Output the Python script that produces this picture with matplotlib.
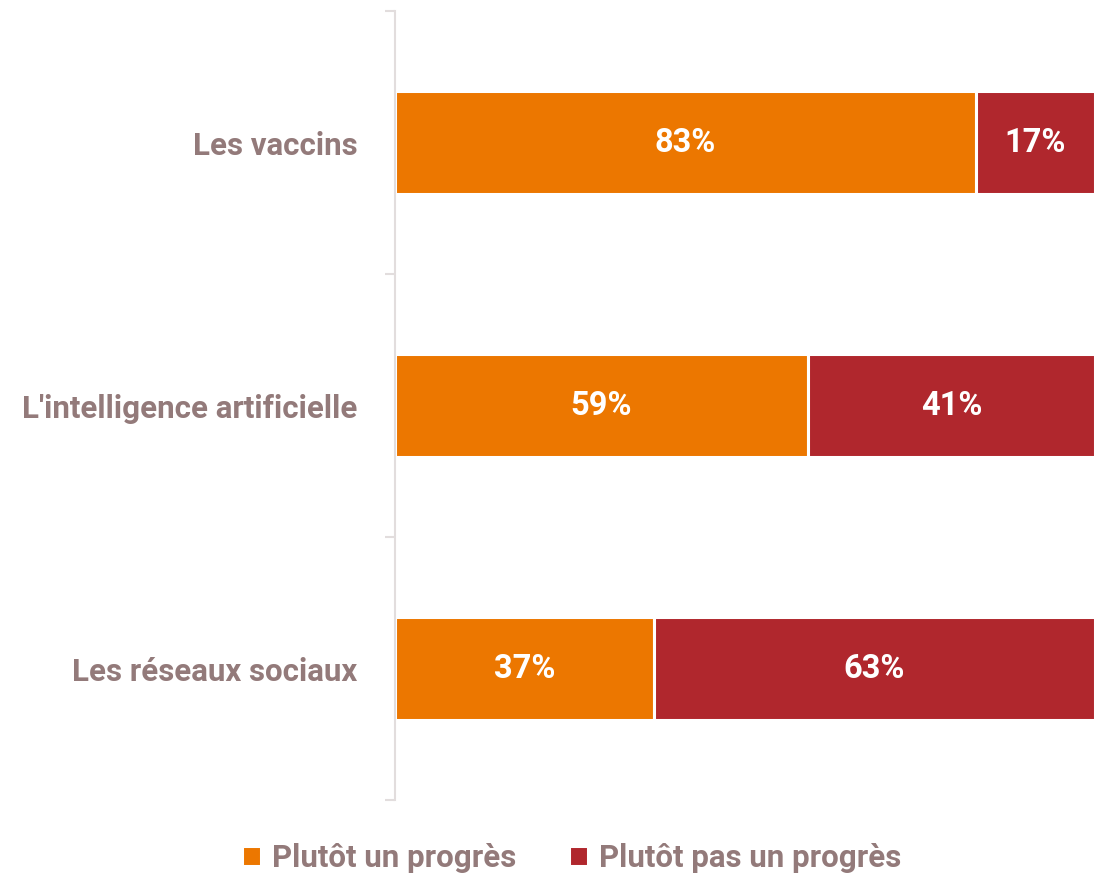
import matplotlib
matplotlib.use("Agg")
import matplotlib.pyplot as plt
import numpy as np

categories = ["Les vaccins", "L'intelligence artificielle", "Les réseaux sociaux"]
progres = [83, 59, 37]
pas_progres = [17, 41, 63]
series_names = ["Plutôt un progrès", "Plutôt pas un progrès"]

orange = "#EC7700"
red = "#B0272D"
label_color = "#937A7A"
axis_color = "#E2DDDD"

plt.rcParams['font.family'] = ['Roboto', 'DejaVu Sans']

fig = plt.figure(figsize=(11.17, 8.73), dpi=100)
ax = fig.add_axes([395 / 1117, 73 / 873, 700 / 1117, 789 / 873])

y = np.arange(len(categories))
h = 0.39
b1 = ax.barh(y, progres, height=h, color=orange, edgecolor="white", linewidth=2.2,
             label=series_names[0])
b2 = ax.barh(y, pas_progres, left=progres, height=h, color=red, edgecolor="white",
             linewidth=2.2, label=series_names[1])

# percentage labels inside each segment
for bars, vals in ((b1, progres), (b2, pas_progres)):
    for bar, v in zip(bars, vals):
        ax.text(bar.get_x() + bar.get_width() / 2, bar.get_y() + bar.get_height() / 2,
                f"{v}%", ha="center", va="center", color="white",
                fontsize=23.5, fontweight="bold")

ax.set_xlim(0, 100)
ax.set_ylim(2.5, -0.5)
ax.set_yticks(y)
ax.set_yticklabels(categories, fontsize=22.5, fontweight="bold", color=label_color)
ax.set_yticks([-0.5, 0.5, 1.5, 2.5], minor=True)
ax.tick_params(axis="y", which="major", length=0, pad=27)
ax.tick_params(axis="y", which="minor", length=7.5, width=1.5, color=axis_color)
ax.set_xticks([])
for s in ["top", "right", "bottom"]:
    ax.spines[s].set_visible(False)
ax.spines["left"].set_color(axis_color)
ax.spines["left"].set_linewidth(1.5)

fig.legend(handles=[b1, b2], labels=series_names, loc="center",
           bbox_to_anchor=(0.512, 0.017), ncol=2, frameon=False,
           handlelength=0.6, handleheight=0.6, handletextpad=0.35, columnspacing=1.7,
           prop={"size": 22.5, "weight": "bold"}, labelcolor=label_color)

fig.savefig("out.png", dpi=100)
